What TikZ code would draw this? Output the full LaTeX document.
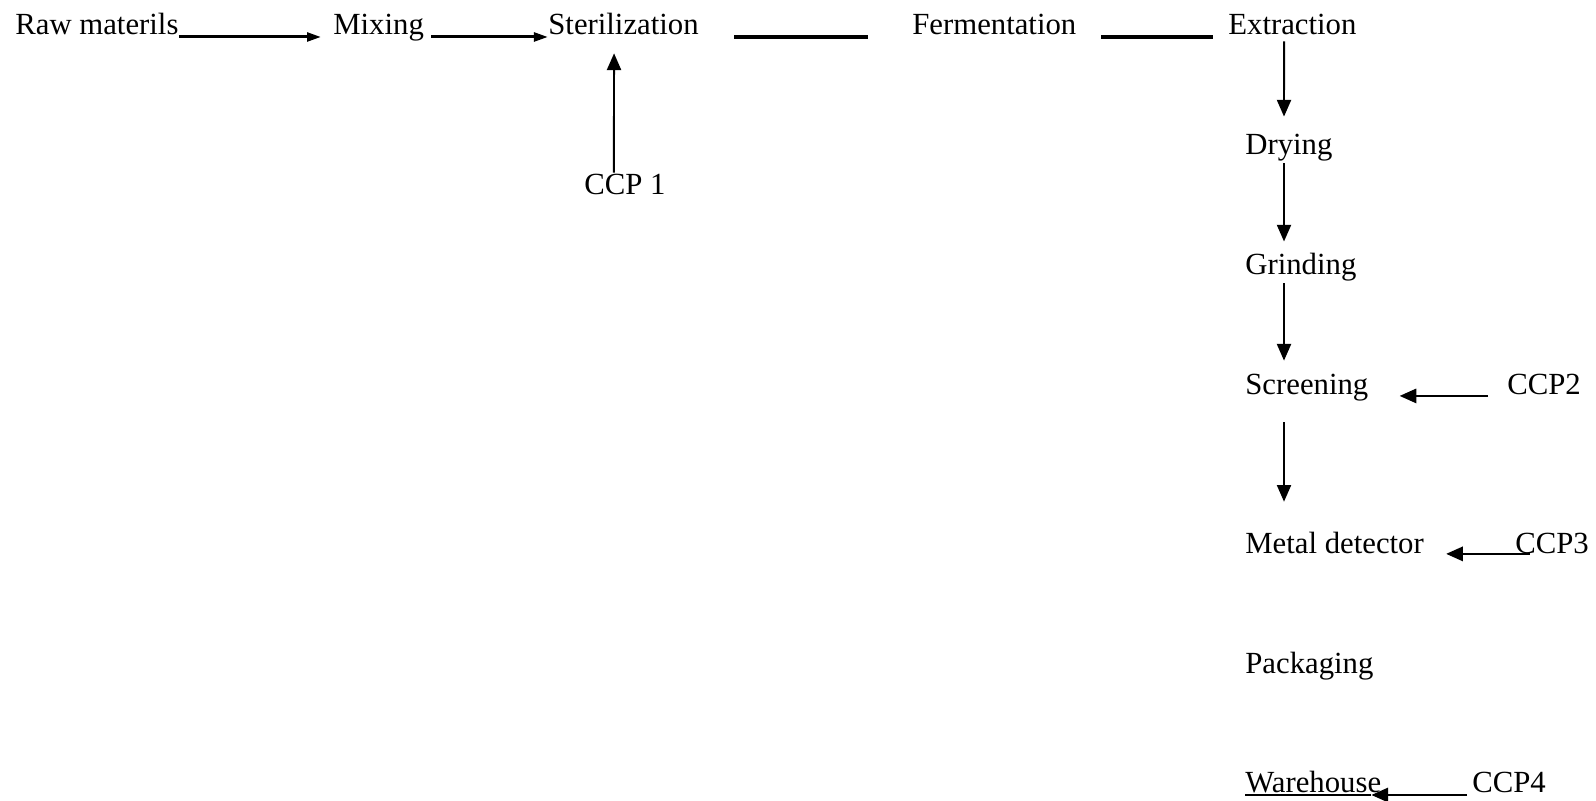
\documentclass[tikz,border=0pt]{standalone}
\usepackage{fontspec}
\setmainfont{Liberation Serif}
\usetikzlibrary{arrows.meta}
\tikzset{>={Triangle[length=9.5pt,width=8pt]}}
\tikzset{%
    lbl/.style={inner sep=0pt, anchor=base west, text height=12pt, text depth=4pt,
        font=\fontsize{17.5}{21}\selectfont},
    link/.style={line width=1.8pt},
    feed/.style={-{Triangle[length=8pt,width=5pt]}, line width=1.7pt},
    drop/.style={->, line width=1.1pt},
    ccp/.style={->, line width=1.5pt}
}

\begin{document}
\begin{tikzpicture}[x=0.02cm,y=-0.02cm]
\useasboundingbox (0,0) rectangle (1596,801);

\node[lbl] (raw) at (15,34) {Raw materils};
\node[lbl] (mix) at (333,34) {Mixing};
\node[lbl] (ster) at (548,34) {Sterilization};
\node[lbl] (ferm) at (912,34) {Fermentation};
\node[lbl] (extr) at (1228,34) {Extraction};
\node[lbl] (ccp1) at (584,194) {CCP 1};

\node[lbl] (dry) at (1245,154) {Drying};
\node[lbl] (grind) at (1245,274) {Grinding};
\node[lbl] (screen) at (1245,394) {Screening};
\node[lbl] (metal) at (1245,553) {Metal detector};
\node[lbl] (pack) at (1245,673) {Packaging};
\node[lbl] (ware) at (1245,792) {Warehouse};

\node[lbl] (ccp2) at (1507,394) {CCP2};
\node[lbl] (ccp3) at (1515,553) {CCP3};
\node[lbl] (ccp4) at (1472,792) {CCP4};

% top row
\draw[feed] ([yshift=-1.7pt]raw.base east) -- ([xshift=-6.8pt,yshift=-1.7pt]mix.base west);
\draw[feed] ([xshift=4pt,yshift=-1.7pt]mix.base east) -- ([yshift=-1.7pt]ster.base west);
\draw[link] ([xshift=20pt,yshift=-1.7pt]ster.base east) -- ([xshift=-25pt,yshift=-1.7pt]ferm.base west);
\draw[link] ([xshift=14pt,yshift=-1.7pt]ferm.base east) -- ([xshift=-8.5pt,yshift=-1.7pt]extr.base west);
\draw[drop] ([xshift=17pt]ccp1.north west) -- ([xshift=37.6pt,yshift=-6.8pt]ster.south west);

% right column
\draw[drop] ([xshift=31.9pt]extr.south west) -- ([xshift=22.2pt,yshift=9.1pt]dry.north west);
\draw[drop] ([xshift=22.2pt,yshift=-1pt]dry.south west) -- ([xshift=22.2pt,yshift=6.3pt]grind.north west);
\draw[drop] ([xshift=22.2pt,yshift=-1pt]grind.south west) -- ([xshift=22.2pt,yshift=6.8pt]screen.north west);
\draw[drop] ([xshift=22.2pt,yshift=-12pt]screen.south west) -- ([xshift=22.2pt,yshift=17pt]metal.north west);

% control points
\draw[ccp] ([xshift=-10.8pt,yshift=-1.1pt]ccp2.base west) -- ([xshift=17.6pt,yshift=-1.1pt]screen.base east);
\draw[ccp] ([xshift=8.5pt,yshift=-0.5pt]ccp3.base west) -- ([xshift=12.5pt,yshift=-0.5pt]metal.base east);
\draw[ccp] ([xshift=-2.8pt,yshift=-1.7pt]ccp4.base west) -- ([xshift=-5.8pt,yshift=-1.7pt]ware.base east);
\draw[line width=1.5pt] ([yshift=-1.7pt]ware.base west) -- ([xshift=-5.8pt,yshift=-1.7pt]ware.base east);
\end{tikzpicture}
\end{document}
